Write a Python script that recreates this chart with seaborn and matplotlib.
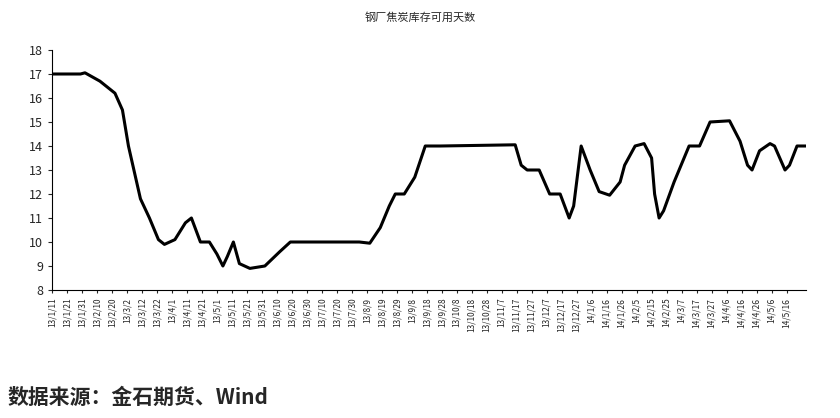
import matplotlib
matplotlib.use("Agg")
import matplotlib.pyplot as plt
import seaborn as sns
import pandas as pd
import numpy as np

sns.set_style("white")
plt.rcParams['font.family'] = ['Noto Sans CJK SC', 'DejaVu Sans']

day_offsets = [0, 19, 22, 32, 42, 47, 51, 59, 65, 71, 75, 82, 89, 93, 99, 105, 110, 114, 117, 121, 125, 132, 142, 152, 159,
               205, 212, 219, 225, 229, 235, 242, 249, 259, 309, 313, 317, 325, 332, 339, 345, 348, 353, 359, 365, 372,
               379, 382, 389, 395, 400, 402, 405, 408, 415, 425, 432, 439, 452, 459, 464, 467, 472, 479, 482, 489, 492, 497, 503]
values = [17, 17, 17.05, 16.7, 16.2, 15.5, 14, 11.8, 11, 10.1, 9.9, 10.1, 10.8, 11, 10, 10, 9.5, 9, 9.4, 10, 9.1, 8.9, 9.0, 9.6, 10,
          10, 9.95, 10.6, 11.5, 12, 12, 12.7, 14, 14, 14.05, 13.2, 13, 13, 12, 12, 11, 11.5, 14, 13, 12.1, 11.95,
          12.5, 13.2, 14, 14.1, 13.5, 12, 11, 11.3, 12.5, 14, 14, 15, 15.05, 14.2, 13.2, 13.0, 13.8, 14.1, 14, 13, 13.2, 14, 14]

start = pd.Timestamp("2013-01-11")
df = pd.DataFrame({"date": start + pd.to_timedelta(day_offsets, unit="D"), "value": values})
tick_dates = pd.date_range(start, "2014-05-16", freq="10D")
tick_labels = [f"{d.year % 100}/{d.month}/{d.day}" for d in tick_dates]

fig = plt.figure(figsize=(8.4, 4.18), dpi=100)
ax = fig.add_axes([52/840, 1 - 290/418, 754/840, 240/418])
sns.lineplot(data=df, x="date", y="value", ax=ax, color="black", linewidth=2.2)
ax.set_xlim(start, start + pd.Timedelta(days=503))
ax.set_ylim(8, 18)
ax.set_yticks(range(8, 19))
ax.set_xticks(tick_dates)
ax.set_xticklabels(tick_labels, rotation=90, fontsize=6)
ax.tick_params(axis="y", labelsize=9, length=3, direction="out", left=True)
ax.tick_params(axis="x", length=2, bottom=True)
ax.set_xlabel("")
ax.set_ylabel("")
for s in ["top", "right"]:
    ax.spines[s].set_visible(False)
for s in ["left", "bottom"]:
    ax.spines[s].set_color("black")
fig.text(0.5, 1 - 17/418, "钢厂焦炭库存可用天数", ha="center", va="center", fontsize=8)
fig.text(8/840, 1 - 397/418, "数据来源：金石期货、Wind", ha="left", va="center", fontsize=15, fontweight="bold")
fig.savefig("out.png", dpi=100)
